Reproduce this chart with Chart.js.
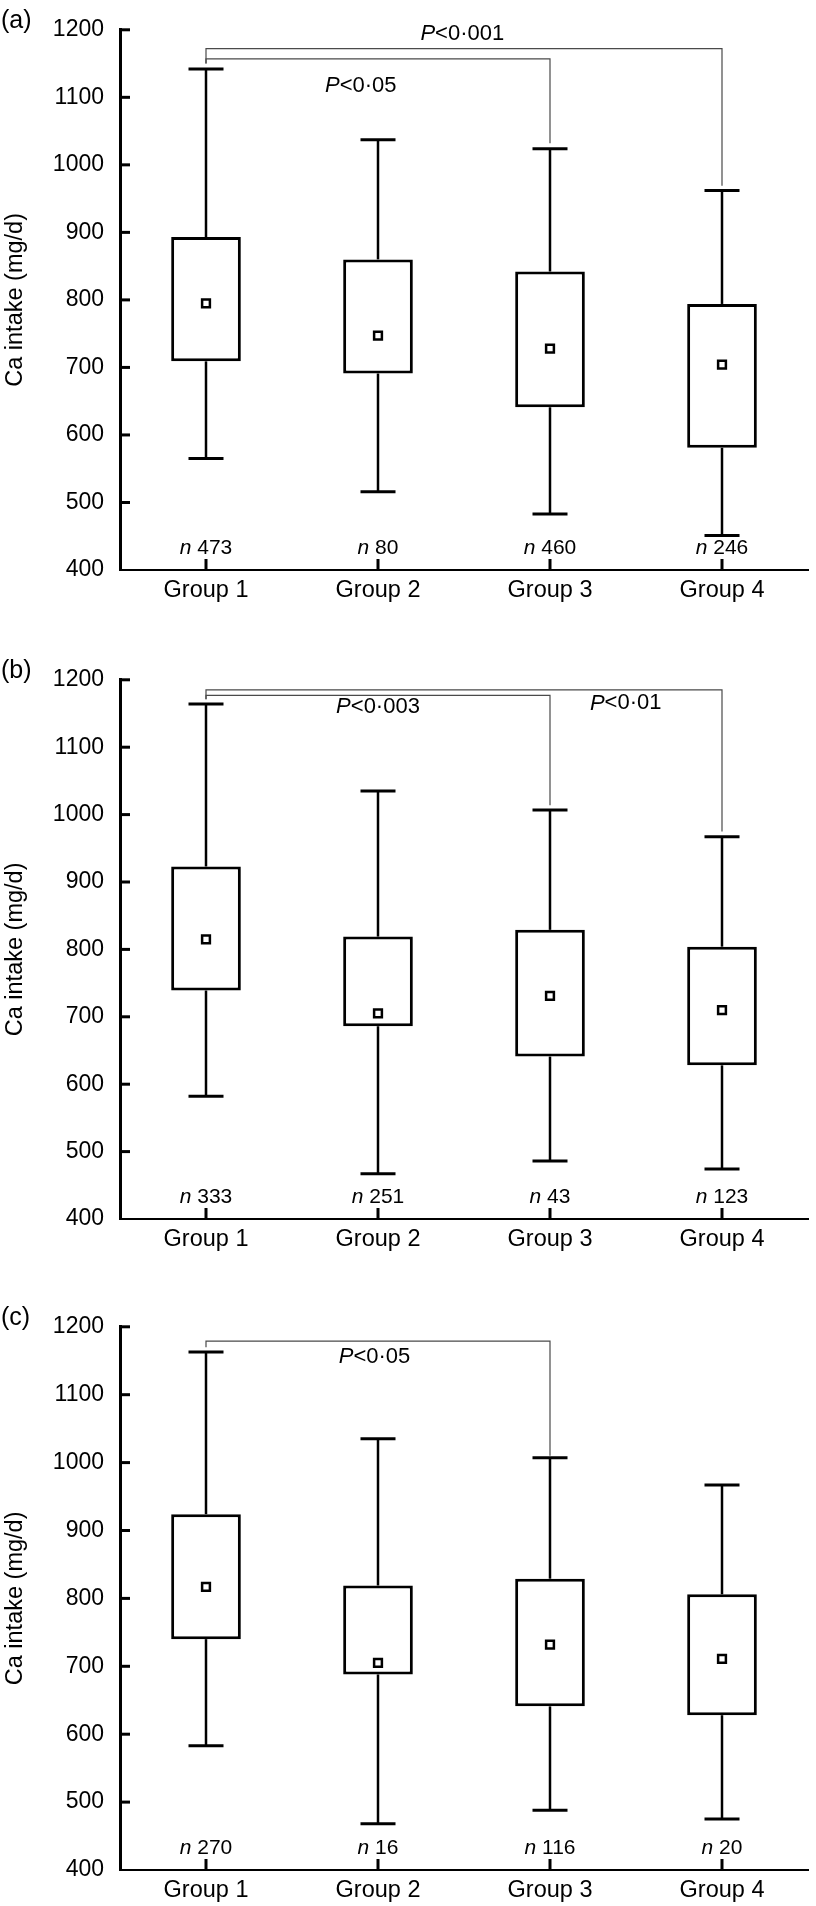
<!DOCTYPE html>
<html>
<head>
<meta charset="utf-8">
<script src="https://cdn.jsdelivr.net/npm/chart.js@4.4.0/dist/chart.umd.min.js"></script>
<style>
  body { margin: 0; background: #fff; }
  canvas { position: absolute; left: 0; }
</style>
</head>
<body>
<canvas id="chartA" width="816" height="648" style="top:0px"></canvas>
<canvas id="chartB" width="816" height="647" style="top:650px"></canvas>
<canvas id="chartC" width="816" height="609" style="top:1297px"></canvas>
<script>
const groups = ['Group 1', 'Group 2', 'Group 3', 'Group 4'];
const yMin = 400, yMax = 1200, yStep = 100;

// (a)
const minA = [565, 516, 483, 451];
const q1A = [709, 691, 641, 581];
const meanA = [795, 747, 728, 704];
const q3A = [893, 860, 842, 794];
const maxA = [1142, 1037, 1024, 962];
const nA = [473, 80, 460, 246];

// (b)
const minB = [582, 467, 486, 474];
const q1B = [739, 686, 641, 628];
const meanB = [815, 705, 731, 710];
const q3B = [923, 819, 829, 804];
const maxB = [1164, 1035, 1007, 967];
const nB = [333, 251, 43, 123];

// (c)
const minC = [583, 468, 488, 475];
const q1C = [740, 688, 641, 628];
const meanC = [817, 705, 732, 711];
const q3C = [924, 819, 829, 806];
const maxC = [1163, 1035, 1007, 967];
const nC = [270, 16, 116, 20];

// significance brackets: from group, to group, bracket level, drop end on each side
const bracketsA = [
  { from: 0, to: 3, level: 1172, leftEnd: 1150, rightEnd: 969 },
  { from: 0, to: 2, level: 1157, leftEnd: 1150, rightEnd: 1032 }
];
const bracketsB = [
  { from: 0, to: 3, level: 1185, leftEnd: 1171, rightEnd: 975 },
  { from: 0, to: 2, level: 1177, leftEnd: 1171, rightEnd: 1014 }
];
const bracketsC = [
  { from: 0, to: 2, level: 1179, leftEnd: 1170, rightEnd: 1010 }
];
const pLabelsA = [{ text: '0·001', at: 1.49, value: 1194 }, { text: '0·05', at: 0.90, value: 1117 }];
const pLabelsB = [{ text: '0·003', at: 1.00, value: 1160 }, { text: '0·01', at: 2.44, value: 1165 }];
const pLabelsC = [{ text: '0·05', at: 0.98, value: 1156 }];

Chart.defaults.font.family = '"Liberation Sans", Arial, Helvetica, sans-serif';
Chart.defaults.color = '#000';

function line(ctx, x1, y1, x2, y2) {
  ctx.beginPath();
  ctx.moveTo(x1, y1);
  ctx.lineTo(x2, y2);
  ctx.stroke();
}

// draws text where the first part is italic ("n", "P")
function mixedText(ctx, italicPart, rest, cx, cy, size) {
  const fam = '"Liberation Sans", Arial, sans-serif';
  ctx.font = 'italic ' + size + 'px ' + fam;
  const w1 = ctx.measureText(italicPart).width;
  ctx.font = size + 'px ' + fam;
  const w2 = ctx.measureText(rest).width;
  const x = cx - (w1 + w2) / 2;
  ctx.textAlign = 'left';
  ctx.textBaseline = 'middle';
  ctx.font = 'italic ' + size + 'px ' + fam;
  ctx.fillText(italicPart, x, cy);
  ctx.font = size + 'px ' + fam;
  ctx.fillText(rest, x + w1, cy);
}

const boxExtras = {
  id: 'boxExtras',
  beforeDatasetsDraw(chart, args, opts) {
    const { ctx, scales: { x, y } } = chart;
    ctx.save();
    ctx.strokeStyle = '#000';
    opts.min.forEach((lo, i) => {
      const cx = x.getPixelForValue(i);
      ctx.lineWidth = 2.5;
      line(ctx, cx, y.getPixelForValue(lo), cx, y.getPixelForValue(opts.q1[i]));
      line(ctx, cx, y.getPixelForValue(opts.q3[i]), cx, y.getPixelForValue(opts.max[i]));
      ctx.lineWidth = 3;
      line(ctx, cx - 17.5, y.getPixelForValue(lo), cx + 17.5, y.getPixelForValue(lo));
      line(ctx, cx - 17.5, y.getPixelForValue(opts.max[i]), cx + 17.5, y.getPixelForValue(opts.max[i]));
    });
    ctx.restore();
  },
  afterDraw(chart, args, opts) {
    const { ctx, chartArea, scales: { x, y } } = chart;
    ctx.save();
    ctx.fillStyle = '#000';
    ctx.strokeStyle = '#000';

    // inward tick marks
    ctx.lineWidth = 3;
    for (let v = yMin + yStep; v <= yMax; v += yStep) {
      const py = y.getPixelForValue(v);
      line(ctx, chartArea.left, py, chartArea.left + 10, py);
    }
    groups.forEach((g, i) => {
      const px = x.getPixelForValue(i);
      line(ctx, px, chartArea.bottom, px, chartArea.bottom - 11);
    });

    // significance brackets
    ctx.strokeStyle = '#4a4a4a';
    ctx.lineWidth = 1.2;
    opts.brackets.forEach(b => {
      const x1 = x.getPixelForValue(b.from), x2 = x.getPixelForValue(b.to);
      const yl = y.getPixelForValue(b.level);
      ctx.beginPath();
      ctx.moveTo(x1, y.getPixelForValue(b.leftEnd));
      ctx.lineTo(x1, yl);
      ctx.lineTo(x2, yl);
      ctx.lineTo(x2, y.getPixelForValue(b.rightEnd));
      ctx.stroke();
    });

    opts.pLabels.forEach(p => {
      const px = x.getPixelForValue(0) + p.at * (x.getPixelForValue(1) - x.getPixelForValue(0));
      mixedText(ctx, 'P', '<' + p.text, px, y.getPixelForValue(p.value), 22);
    });

    opts.n.forEach((n, i) => {
      mixedText(ctx, 'n', ' ' + n, x.getPixelForValue(i), y.getPixelForValue(432), 21);
    });

    ctx.font = '25px "Liberation Sans", Arial, sans-serif';
    ctx.textAlign = 'left';
    ctx.textBaseline = 'middle';
    ctx.fillText(opts.tag, 1, chartArea.top - 9);
    ctx.restore();
  }
};

function makePanel(id, tag, axisBottom, mins, q1s, means, q3s, maxs, ns, brackets, pLabels) {
  const canvas = document.getElementById(id);
  const H = canvas.height;
  return new Chart(canvas.getContext('2d'), {
    data: {
      labels: groups,
      datasets: [{
        type: 'line',
        data: means,
        showLine: false,
        pointStyle: 'rect',
        pointRadius: 5.5,
        pointBorderWidth: 2.5,
        pointBorderColor: '#000',
        pointBackgroundColor: '#fff',
        order: 1
      }, {
        type: 'bar',
        data: q1s.map((q, i) => [q, q3s[i]]),
        backgroundColor: '#fff',
        borderColor: '#000',
        borderWidth: 3,
        borderSkipped: false,
        barPercentage: 0.405,
        categoryPercentage: 1,
        order: 2
      }]
    },
    options: {
      responsive: false,
      animation: false,
      devicePixelRatio: 1,
      layout: { padding: { top: 28, right: 3, left: 0, bottom: 0 } },
      plugins: {
        legend: { display: false },
        tooltip: { enabled: false },
        boxExtras: { tag, min: mins, q1: q1s, q3: q3s, max: maxs, n: ns, brackets, pLabels }
      },
      scales: {
        x: {
          offset: true,
          grid: { display: false, drawTicks: false },
          border: { color: '#000', width: 2 },
          ticks: { font: { size: 23.5 }, padding: 6 },
          afterFit: s => { s.height = H - axisBottom; }
        },
        y: {
          min: yMin,
          max: yMax,
          grid: { display: false, drawTicks: false },
          border: { color: '#000', width: 3 },
          ticks: { stepSize: yStep, font: { size: 23 }, padding: 16, callback: v => String(v) },
          title: { display: true, text: 'Ca intake (mg/d)', font: { size: 23.5 }, padding: { top: 1, bottom: 0 } },
          afterFit: s => { s.width = 120; }
        }
      }
    },
    plugins: [boxExtras]
  });
}

makePanel('chartA', '(a)', 570, minA, q1A, meanA, q3A, maxA, nA, bracketsA, pLabelsA);
makePanel('chartB', '(b)', 569, minB, q1B, meanB, q3B, maxB, nB, bracketsB, pLabelsB);
makePanel('chartC', '(c)', 573, minC, q1C, meanC, q3C, maxC, nC, bracketsC, pLabelsC);
</script>
</body>
</html>
